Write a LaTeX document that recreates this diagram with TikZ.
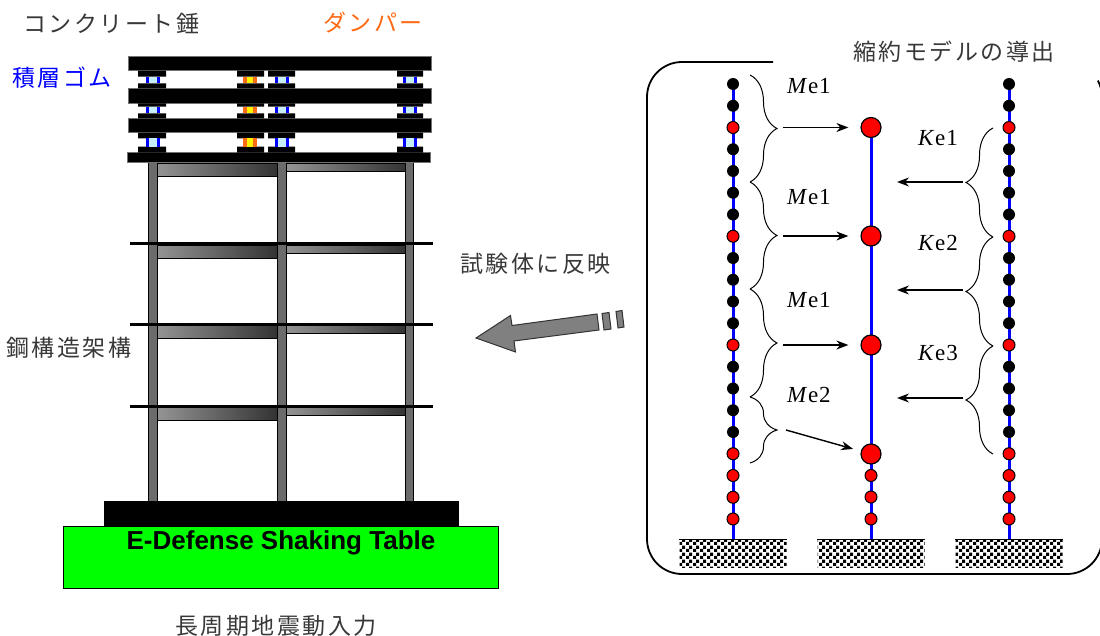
\documentclass[tikz,border=0pt]{standalone}
\usepackage{fontspec}
\setmainfont{Liberation Serif}
\newfontfamily\jpfont[LetterSpace=11]{Noto Sans CJK JP}
\newfontfamily\tablefont{Liberation Sans}
\usetikzlibrary{arrows.meta,decorations.pathreplacing,patterns}
\pgfdeclarelayer{bg}
\pgfsetlayers{bg,main}
% checkerboard for the ground blocks
\pgfdeclarepatternformonly{chk}{\pgfpointorigin}{\pgfqpoint{7pt}{7pt}}{\pgfqpoint{7pt}{7pt}}{%
  \pgfpathrectangle{\pgfpointorigin}{\pgfqpoint{3.5pt}{3.5pt}}%
  \pgfpathrectangle{\pgfqpoint{3.5pt}{3.5pt}}{\pgfqpoint{3.5pt}{3.5pt}}%
  \pgfusepath{fill}}
\newcommand\elab[2]{\textit{#1}\kern0.6pt e\kern1pt #2}
\definecolor{dampor}{RGB}{255,106,20}
\begin{document}
\begin{tikzpicture}[x=1pt,y=-1pt,
  jp/.style={font={\fontsize{23}{25}\jpfont}, inner sep=0pt, anchor=west, text=black!78},
  slab/.style={fill=black, draw=black!55, line width=0.6pt},
  column/.style={fill=black!58, draw=black, line width=1pt},
  beam/.style={left color=black!42, right color=black!80, draw=black, line width=0.8pt},
  floorline/.style={line width=3pt, black},
  bnode/.style={circle, fill=black, minimum size=12pt, inner sep=0pt},
  rnode/.style={circle, fill=red, draw=black, line width=1pt, minimum size=12pt, inner sep=0pt},
  bignode/.style={circle, fill=red, draw=black, line width=1.2pt, minimum size=20pt, inner sep=0pt},
  blueline/.style={blue, line width=3pt},
  ground/.style={rectangle, minimum width=107pt, minimum height=27pt, inner sep=0pt, pattern=chk},
  arr/.style={-{Stealth[length=12pt,width=9pt]}, line width=1.4pt},
  bracel/.style={decorate, decoration={brace, amplitude=27pt}, line width=1pt},
  bracer/.style={decorate, decoration={brace, amplitude=27pt, mirror}, line width=1pt},
  elabel/.style={font={\fontsize{23}{25}\selectfont}, inner sep=0pt, anchor=west},
  bigarrow/.style={fill=black!50, draw=black!80, line width=1pt}
]
\useasboundingbox (0,0) rectangle (1100,636);

% ---------- steel frame ----------
\foreach \xl/\xr in {148/157, 277/286, 405/413}
  \draw[column] (\xl,162.7) rectangle (\xr,501);
\foreach \t in {163, 245, 325, 407} {
  \draw[beam] (157,\t) rectangle (277,\t+13);
  \draw[beam] (286,\t) rectangle (405,\t+8.5);
}
\foreach \f in {243.5, 324.5, 406}
  \draw[floorline] (130,\f) -- (433,\f);

% ---------- concrete weights with rubber bearings and dampers ----------
\draw[slab] (128,56.7) rectangle (431,70.7);
\draw[slab] (128,88.3) rectangle (431,103.3);
\draw[slab] (128,118.3) rectangle (431,132.7);
\draw[slab] (127,152.7) rectangle (430,162.7);
\foreach \ct/\bt/\bb/\cb in {70.7/76.7/83.3/88.3, 103.3/106.7/113.3/118.3, 132.7/138.3/146.7/152.7} {
  \foreach \xl/\xr in {138/166, 237/264, 268/295, 397/423}
    \fill (\xl,\ct) rectangle (\xr,\bt) (\xl,\bb) rectangle (\xr,\cb);
  \foreach \c in {152.5, 281.5, 410} {
    \fill[cyan!22] (\c-7,\bt) rectangle (\c+7,\bb);
    \fill[blue] (\c-7,\bt) rectangle (\c-4,\bb);
    \fill[blue] (\c+4,\bt) rectangle (\c+7,\bb);
  }
  \fill[yellow] (243,\bt) rectangle (257,\bb);
  \fill[dampor] (243,\bt) rectangle (247,\bb);
  \fill[dampor] (253,\bt) rectangle (257,\bb);
}

% ---------- base and shaking table ----------
\fill (104,501) rectangle (459,526);
\draw[fill={rgb,255:red,0;green,255;blue,0}, line width=1pt] (63,526) rectangle (498,588);
\node[font={\fontsize{26}{28}\tablefont\bfseries}, inner sep=0pt] (table) at (281,543) {E-Defense Shaking Table};

% ---------- labels on the left ----------
\node[jp] (weight) at (23,23) {コンクリート錘};
\node[jp, text=dampor] (damper) at (323,23) {ダンパー};
\node[jp, text=blue] (rubber) at (12,78) {積層ゴム};
\node[jp] (steel) at (6,348) {鋼構造架構};
\node[jp] (input) at (175,626) {長周期地震動入力};
\node[jp] (reflect) at (460,264) {試験体に反映};

% ---------- big grey arrow ----------
\draw[bigarrow] (476,338) -- (510.5,315.5) -- (512,325.5) -- (597,314) -- (599,330) -- (514,341) -- (515.5,352) -- cycle;
\draw[bigarrow] (602,313.5) -- (609,312.5) -- (611,329) -- (604,330) -- cycle;
\draw[bigarrow] (616,311.5) -- (622,310.5) -- (624,327) -- (618,328) -- cycle;

% ---------- reduced model panel ----------
\node[jp] (title) at (853,52) {縮約モデルの導出};
\draw[line width=1.8pt] (773,62) -- (682,62) arc[start angle=270, end angle=180, radius=35]
  -- (647,539) arc[start angle=180, end angle=90, radius=35]
  -- (1067,574) arc[start angle=90, end angle=0, radius=35]
  -- (1102,97) arc[start angle=0, end angle=-28, radius=35];

\node[ground] (ga) at (733,553.5) {};
\node[ground] (gb) at (871,553.5) {};
\node[ground] (gc) at (1009,553.5) {};
\foreach \g in {ga,gb,gc}
  \draw[line width=1.2pt] (\g.north west) -- (\g.north east);

\foreach \k in {0,1,3,4,5,6,8,9,10,11,13,14,15,16} {
  \node[bnode] (a\k) at (733,{84+21.75*\k}) {};
  \node[bnode] (c\k) at (1009,{84+21.75*\k}) {};
}
\foreach \k in {2,7,12,17,18,19,20} {
  \node[rnode] (a\k) at (733,{84+21.75*\k}) {};
  \node[rnode] (c\k) at (1009,{84+21.75*\k}) {};
}
\node[bignode] (b1) at (871,127.5) {};
\node[bignode] (b2) at (871,236) {};
\node[bignode] (b3) at (871,345) {};
\node[bignode] (b4) at (871,454) {};
\node[rnode] (bs1) at (871,475.5) {};
\node[rnode] (bs2) at (871,497) {};
\node[rnode] (bs3) at (871,519) {};

\begin{pgfonlayer}{bg}
  \draw[blueline] (a0.center) -- (ga.north);
  \draw[blueline] (b1.center) -- (gb.north);
  \draw[blueline] (c0.center) -- (gc.north);
\end{pgfonlayer}

% braces grouping the masses
\draw[bracel] (750,75) -- (750,182);
\draw[bracel] (750,182) -- (750,289);
\draw[bracel] (750,289) -- (750,397);
\draw[bracel] (750,397) -- (750,463);
% braces grouping the stiffnesses
\draw[bracer] (993,128) -- (993,237);
\draw[bracer] (993,237) -- (993,346);
\draw[bracer] (993,346) -- (993,454);

\node[elabel] (me1) at (787,86) {\elab{M}{1}};
\node[elabel] (me2) at (787,197) {\elab{M}{1}};
\node[elabel] (me3) at (787,300) {\elab{M}{1}};
\node[elabel] (me4) at (787,395) {\elab{M}{2}};
\node[elabel] (ke1) at (918,138) {\elab{K}{1}};
\node[elabel] (ke2) at (918,243) {\elab{K}{2}};
\node[elabel] (ke3) at (918,353) {\elab{K}{3}};

\coordinate (ma1) at (783,127.5);
\coordinate (ma2) at (783,236);
\coordinate (ma3) at (783,345);
\coordinate (ma4) at (786,430);
\draw[arr, shorten >=12pt] (ma1) -- (b1);
\draw[arr, shorten >=12pt] (ma2) -- (b2);
\draw[arr, shorten >=12pt] (ma3) -- (b3);
\draw[arr, shorten >=8pt] (ma4) -- (b4);

\coordinate (kc1) at (963,182);
\coordinate (kt1) at (897,182);
\coordinate (kc2) at (963,290);
\coordinate (kt2) at (897,290);
\coordinate (kc3) at (963,398);
\coordinate (kt3) at (897,398);
\draw[arr] (kc1) -- (kt1);
\draw[arr] (kc2) -- (kt2);
\draw[arr] (kc3) -- (kt3);
\end{tikzpicture}
\end{document}
